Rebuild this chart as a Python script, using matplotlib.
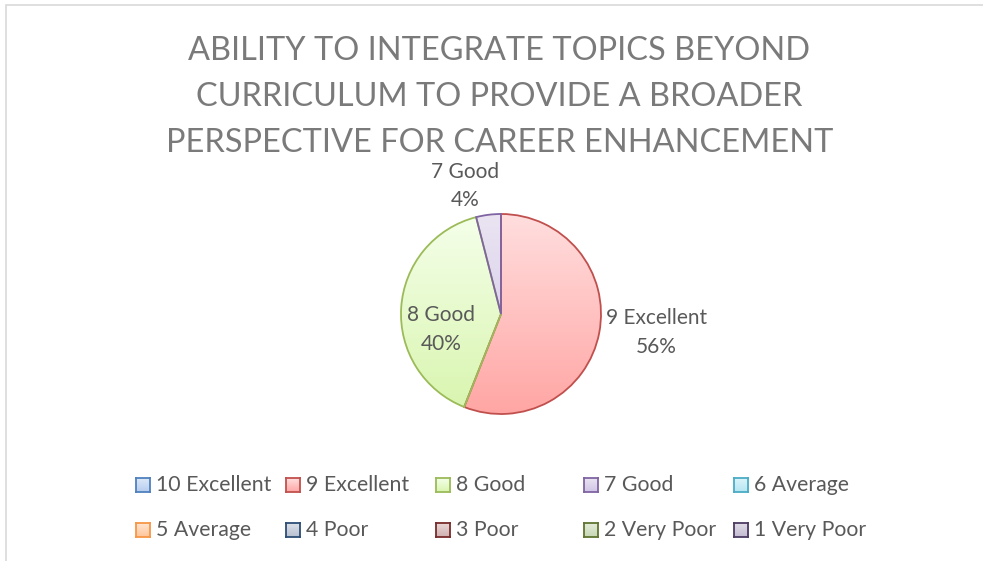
import numpy as np
import matplotlib
matplotlib.use("Agg")
import matplotlib.pyplot as plt
from matplotlib.colors import LinearSegmentedColormap
from matplotlib.patches import Rectangle

# ---- data ----
title = "ABILITY TO INTEGRATE TOPICS BEYOND\nCURRICULUM TO PROVIDE A BROADER\nPERSPECTIVE FOR CAREER ENHANCEMENT"
categories = ["10 Excellent", "9 Excellent", "8 Good", "7 Good", "6 Average",
              "5 Average", "4 Poor", "3 Poor", "2 Very Poor", "1 Very Poor"]
shares = [0, 56, 40, 4, 0, 0, 0, 0, 0, 0]

# ---- styles ----
edge_colors = ["#4F81BD", "#C0504D", "#9BBB59", "#8064A2", "#4BACC6",
               "#F79646", "#2C4D75", "#772C2A", "#5F7530", "#4D3B62"]
top_colors = ["#DDE8F8", "#FFDEDE", "#F5FFEA", "#EAE4F2", "#DDF4FA",
              "#FFE6D2", "#DCE0E8", "#EAD8D8", "#E4ECDA", "#E0DCE6"]
bot_colors = ["#B6CDF0", "#FFA6A4", "#D8F5AE", "#D0C4E6", "#B4E6F2",
              "#FFC49A", "#B8C0D0", "#D0B0B0", "#C8D8B4", "#C4BCD2"]
font = "Lato"

W, H = 983, 561
fig = plt.figure(figsize=(W / 100, H / 100), dpi=100)
fig.patch.set_facecolor("white")

# chart border
fig.add_artist(Rectangle((6 / W, -0.05), 1.2, 1 - 5.5 / H + 0.05, transform=fig.transFigure,
                         facecolor="none", edgecolor="#D9D9D9", lw=1.2))

fig.text(0.5 + 8 / W, 1 - 97 / H, title, ha="center", va="center", fontsize=23.4,
         family=font, color="#7A7A7A", linespacing=1.66)

# pie axes
cx, cy, r = 501, 314, 100
ax = fig.add_axes([(cx - r) / W, (H - cy - r) / H, 2 * r / W, 2 * r / H])
wedges, _ = ax.pie(shares, startangle=90, counterclock=False, radius=1,
                   wedgeprops=dict(linewidth=1.3))
ax.axis("off")

grad = np.linspace(1, 0, 256).reshape(-1, 1)
for i, w in enumerate(wedges):
    if shares[i] == 0:
        w.set_visible(False)
        continue
    cmap = LinearSegmentedColormap.from_list("g", [bot_colors[i], top_colors[i]])
    im = ax.imshow(grad, cmap=cmap, extent=(-1, 1, -1, 1), aspect="auto",
                   origin="upper", zorder=1, vmin=0, vmax=1)
    im.set_clip_path(w)
    w.set_facecolor("none")
    w.set_edgecolor(edge_colors[i])
    w.set_zorder(2)
ax.set_xlim(-1, 1)
ax.set_ylim(-1, 1)
ax.set_aspect("auto")

# data labels: placed relative to wedge mid-angle (radius, dx, dy)
label_layout = {1: (1.58, 0.0, 0.11), 2: (0.6, 0.0, -0.195), 3: (1.29, -0.2, 0.0)}
total = sum(shares)
for i, w in enumerate(wedges):
    if shares[i] == 0:
        continue
    mid = np.deg2rad((w.theta1 + w.theta2) / 2)
    rr, dx, dy = label_layout.get(i, (1.3, 0, 0))
    x = rr * np.cos(mid) + dx
    y = rr * np.sin(mid) + dy
    ax.text(x, y, f"{categories[i]}\n{round(100 * shares[i] / total)}%", ha="center",
            va="center", fontsize=15, family=font, color="#595959",
            linespacing=1.56, clip_on=False)

# legend (Excel-style fixed columns)
col_x = [136, 286, 436, 584, 734]
row_y = [485, 530]
sq = 14
for i, name in enumerate(categories):
    row, col = divmod(i, 5)
    x0 = col_x[col]
    y0 = row_y[row]
    gcm = LinearSegmentedColormap.from_list("g", [bot_colors[i], top_colors[i]])
    lax = fig.add_axes([x0 / W, (H - y0 - sq / 2) / H, sq / W, sq / H])
    lax.imshow(grad, cmap=gcm, extent=(0, 1, 0, 1), aspect="auto", vmin=0, vmax=1)
    lax.set_xticks([]); lax.set_yticks([])
    for s in lax.spines.values():
        s.set_edgecolor(edge_colors[i]); s.set_linewidth(1.3)
    fig.text((x0 + sq + 6) / W, 1 - y0 / H, name, ha="left", va="center",
             fontsize=15.3, family=font, color="#595959")

fig.savefig("out.png", dpi=100)
